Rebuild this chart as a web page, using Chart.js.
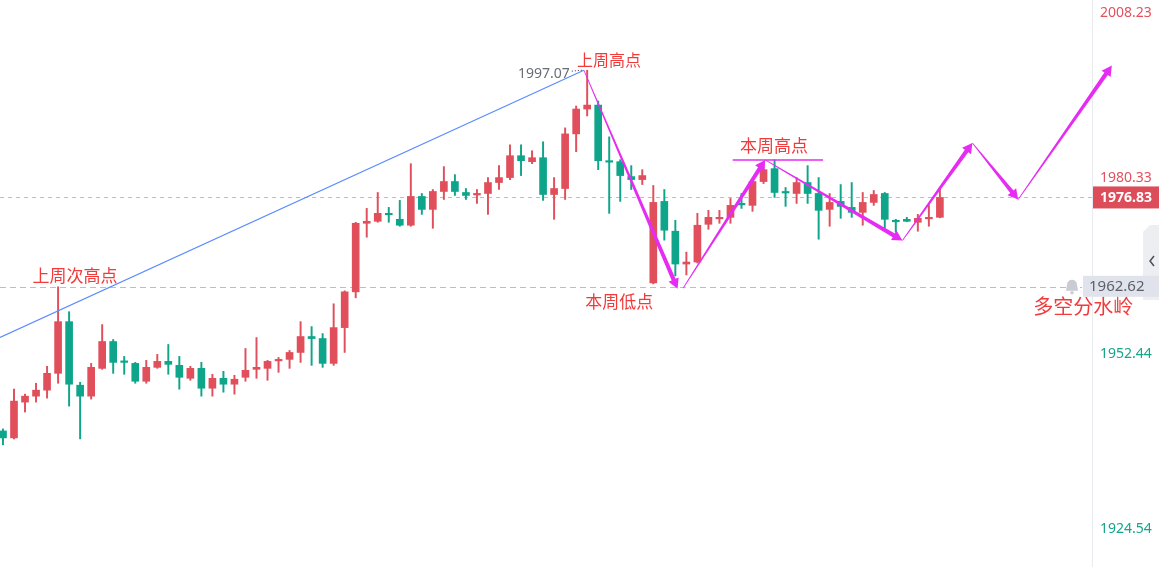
<!DOCTYPE html>
<html>
<head>
<meta charset="utf-8">
<script src="https://cdn.jsdelivr.net/npm/chart.js@4.4.1/dist/chart.umd.min.js"></script>
<style>
html,body{margin:0;padding:0;background:#fff;}
#wrap{width:1159px;height:567px;position:relative;}
</style>
</head>
<body>
<div id="wrap"><canvas id="kline"></canvas></div>
<script>
// candles, oldest first (red = up, green = down)
var opens = [1939.70,1938.59,1944.28,1945.23,1946.18,1948.86,1957.08,1946.97,1945.23,1949.65,
  1953.92,1950.76,1950.44,1947.60,1949.81,1950.76,1950.13,1948.07,1949.65,1946.49,
  1948.07,1947.13,1948.23,1949.50,1949.65,1950.84,1951.08,1952.18,1954.71,1954.39,
  1950.44,1956.13,1961.82,1972.72,1973.04,1974.22,1973.35,1972.41,1976.99,1974.93,
  1977.78,1979.36,1977.62,1977.23,1977.46,1979.20,1979.99,1983.47,1982.52,1983.15,
  1977.30,1978.25,1986.94,1990.89,1991.52,1982.60,1982.52,1980.15,1979.67,1963.24,
  1976.20,1971.46,1966.24,1966.56,1972.56,1973.43,1973.67,1975.80,1975.57,1979.36,
  1981.41,1977.70,1977.46,1979.20,1977.46,1974.93,1976.20,1975.25,1974.46,1976.04,
  1977.46,1973.12,1973.35,1972.88,1973.43,1973.67];
var highs = [1940.02,1946.34,1945.55,1947.28,1949.97,1962.62,1958.66,1947.44,1950.44,1956.61,
  1954.24,1951.55,1950.60,1950.92,1951.87,1953.45,1951.55,1949.97,1950.60,1948.71,
  1949.18,1948.55,1952.81,1954.55,1950.92,1951.39,1952.50,1957.08,1956.29,1955.18,
  1959.92,1961.98,1972.88,1975.09,1977.62,1975.25,1976.36,1982.20,1977.46,1978.09,
  1981.73,1980.46,1978.25,1978.09,1979.99,1981.89,1985.20,1985.20,1984.26,1985.68,
  1979.99,1987.89,1991.37,1997.07,1992.16,1986.47,1982.83,1981.89,1981.25,1978.73,
  1978.09,1973.20,1968.14,1974.30,1974.78,1974.78,1976.67,1977.46,1979.83,1982.04,
  1982.83,1978.41,1979.99,1981.89,1979.99,1977.46,1978.88,1979.20,1977.62,1977.94,
  1977.62,1973.35,1973.67,1974.14,1975.72,1978.41];
var lows = [1937.49,1938.44,1942.70,1944.28,1944.91,1947.28,1943.65,1938.44,1944.76,1949.50,
  1948.86,1948.71,1947.28,1947.28,1949.65,1948.71,1946.34,1947.76,1945.23,1945.23,
  1945.86,1945.55,1947.60,1948.07,1947.76,1949.02,1949.65,1950.60,1950.13,1949.81,
  1950.13,1952.18,1960.87,1970.51,1972.88,1972.88,1972.25,1972.25,1974.14,1971.93,
  1976.51,1977.15,1976.51,1975.88,1974.14,1978.09,1979.67,1980.31,1982.20,1976.36,
  1973.35,1976.51,1984.10,1989.79,1981.25,1974.30,1976.20,1978.09,1978.88,1963.08,
  1970.04,1964.35,1964.51,1966.40,1971.77,1972.72,1972.72,1975.09,1974.62,1979.04,
  1976.83,1975.41,1975.88,1975.88,1970.19,1972.25,1973.51,1973.67,1972.41,1975.57,
  1971.93,1971.30,1972.96,1971.46,1972.25,1973.59];
var closes = [1938.59,1944.44,1945.23,1946.18,1948.86,1957.08,1947.13,1945.23,1949.81,1953.92,
  1950.60,1950.60,1947.60,1949.81,1950.76,1950.29,1948.23,1949.65,1946.49,1948.07,
  1947.13,1947.92,1949.34,1949.81,1950.76,1951.00,1952.18,1954.71,1954.39,1950.44,
  1956.13,1961.82,1972.72,1973.04,1974.30,1974.07,1972.41,1976.99,1974.93,1977.78,
  1979.36,1977.78,1977.15,1977.38,1979.20,1979.99,1983.47,1982.68,1983.15,1977.30,
  1978.25,1986.94,1990.89,1991.52,1982.68,1982.44,1980.31,1979.67,1980.31,1976.04,
  1971.62,1966.24,1966.56,1972.41,1973.67,1973.59,1975.57,1975.65,1979.36,1981.25,
  1977.62,1977.54,1979.20,1977.46,1974.78,1976.04,1975.41,1974.46,1976.04,1977.30,
  1973.35,1972.96,1973.04,1973.51,1973.59,1976.83];

var yTicks = [2008.23, 1980.33, 1952.44, 1924.54];
var yMin = 1918.06;
var xMin = -0.27, xMax = 98.8;
var lastPrice = 1976.83;
var pivotPrice = 1962.62;
var weekHighIdx = 52.7, weekHigh = 1997.07;

// drawings, in [candle index, price]
var trendLine = [[-0.27, 1954.56], [weekHighIdx, weekHigh]];
var swingArrows = [
  [[weekHighIdx, weekHigh], [61.2, 1962.3]],
  [[61.7, 1962.4], [69.15, 1982.8]],
  [[69.15, 1982.8], [81.6, 1970.0]],
  [[81.6, 1970.0], [87.95, 1985.5]],
  [[87.95, 1985.5], [92.1, 1976.5]],
  [[92.1, 1976.5], [100.6, 1997.8]]
];
var thisWeekHighLine = [[66.2, 1982.8], [74.4, 1982.8]];
var notes = [
  {text: '上周次高点', x: 6.53, y: 1964.35, size: 17},
  {text: '上周高点', x: 54.99, y: 1998.63, size: 16},
  {text: '本周低点', x: 55.9, y: 1960.24, size: 17},
  {text: '本周高点', x: 69.96, y: 1985.05, size: 17},
  {text: '多空分水岭', x: 98.0, y: 1959.45, size: 20}
];

var RED = '#e04f5b', GREEN = '#0ea58a', PINK = '#e62cf2';
var CJK = '"Noto Sans CJK SC", "Noto Sans", sans-serif';

var idx = opens.map(function(v, i){ return i; });
var candleColors = idx.map(function(i){ return closes[i] >= opens[i] ? RED : GREEN; });

function taperArrow(ctx, x1, y1, x2, y2) {
    var dx = x2 - x1, dy = y2 - y1, len = Math.sqrt(dx*dx + dy*dy);
    var ux = dx/len, uy = dy/len, nx = -uy, ny = ux;
    var head = 10, hw = 5.5, w0 = 0.4, w1 = 2.1;
    var bx = x2 - ux*head, by = y2 - uy*head;
    ctx.beginPath();
    ctx.moveTo(x1 + nx*w0, y1 + ny*w0);
    ctx.lineTo(bx + nx*w1, by + ny*w1);
    ctx.lineTo(bx + nx*hw, by + ny*hw);
    ctx.lineTo(x2, y2);
    ctx.lineTo(bx - nx*hw, by - ny*hw);
    ctx.lineTo(bx - nx*w1, by - ny*w1);
    ctx.lineTo(x1 - nx*w0, y1 - ny*w0);
    ctx.closePath();
    ctx.fill();
}

var annotate = {
    id: 'annotate',
    beforeDatasetsDraw: function(chart) {
        var ctx = chart.ctx, area = chart.chartArea, ys = chart.scales.y;
        ctx.save();
        ctx.lineWidth = 1;
        ctx.setLineDash([4, 4]);
        ctx.strokeStyle = '#f2a5ac';
        var py = Math.round(ys.getPixelForValue(lastPrice)) + 0.5;
        ctx.beginPath(); ctx.moveTo(area.left, py); ctx.lineTo(area.right, py); ctx.stroke();
        ctx.setLineDash([6, 4]);
        ctx.strokeStyle = '#8fd4c7';
        py = Math.round(ys.getPixelForValue(pivotPrice)) + 0.5;
        ctx.beginPath(); ctx.moveTo(area.left, py); ctx.lineTo(area.right - 10, py); ctx.stroke();
        ctx.restore();
    },
    afterDatasetsDraw: function(chart) {
        var ctx = chart.ctx, xs = chart.scales.x, ys = chart.scales.y;
        function X(v){ return xs.getPixelForValue(v); }
        function Y(v){ return ys.getPixelForValue(v); }
        ctx.save();
        // trend line to last week's high
        ctx.strokeStyle = '#5b8cff';
        ctx.lineWidth = 1.2;
        ctx.beginPath();
        ctx.moveTo(X(trendLine[0][0]), Y(trendLine[0][1]));
        ctx.lineTo(X(trendLine[1][0]), Y(trendLine[1][1]));
        ctx.stroke();

        // high marker
        var hx = X(weekHighIdx), hy = Y(weekHigh);
        ctx.strokeStyle = '#333';
        ctx.lineWidth = 1;
        ctx.setLineDash([1, 2]);
        ctx.beginPath(); ctx.moveTo(hx - 12, hy + 1); ctx.lineTo(hx - 2, hy); ctx.stroke();
        ctx.setLineDash([]);
        ctx.fillStyle = '#6a6d78';
        ctx.font = '14px "Noto Sans", sans-serif';
        ctx.textAlign = 'right';
        ctx.textBaseline = 'middle';
        ctx.fillText(weekHigh.toFixed(2), hx - 14, hy + 4);

        // swing arrows
        ctx.fillStyle = PINK;
        swingArrows.forEach(function(a){
            taperArrow(ctx, X(a[0][0]), Y(a[0][1]), X(a[1][0]), Y(a[1][1]));
        });
        ctx.strokeStyle = PINK;
        ctx.lineWidth = 1.5;
        ctx.beginPath();
        ctx.moveTo(X(thisWeekHighLine[0][0]), Y(thisWeekHighLine[0][1]));
        ctx.lineTo(X(thisWeekHighLine[1][0]), Y(thisWeekHighLine[1][1]));
        ctx.stroke();

        // notes
        ctx.fillStyle = '#f23a3a';
        ctx.textAlign = 'center';
        notes.forEach(function(n){
            ctx.font = n.size + 'px ' + CJK;
            ctx.fillText(n.text, X(n.x), Y(n.y));
        });
        ctx.restore();
    },
    afterDraw: function(chart) {
        var ctx = chart.ctx, area = chart.chartArea, ys = chart.scales.y;
        ctx.save();
        // last price box
        var py = ys.getPixelForValue(lastPrice);
        ctx.fillStyle = '#dc4c59';
        ctx.fillRect(area.right + 1, py - 11, chart.width - area.right - 1, 22);
        ctx.fillStyle = '#fff';
        ctx.font = 'bold 14px "Noto Sans", sans-serif';
        ctx.textAlign = 'left';
        ctx.textBaseline = 'middle';
        ctx.fillText(lastPrice.toFixed(2), area.right + 8, py + 1);

        // collapse tab
        var tabX = chart.width - 16;
        ctx.fillStyle = '#eceef2';
        ctx.beginPath();
        ctx.moveTo(tabX, 232); ctx.lineTo(tabX + 7, 225); ctx.lineTo(chart.width, 225);
        ctx.lineTo(chart.width, 300); ctx.lineTo(tabX, 300); ctx.closePath(); ctx.fill();
        ctx.strokeStyle = '#4a4d57';
        ctx.lineWidth = 1.5;
        ctx.beginPath(); ctx.moveTo(tabX + 11, 256); ctx.lineTo(tabX + 7, 261); ctx.lineTo(tabX + 11, 266); ctx.stroke();

        // pivot box
        var gy = ys.getPixelForValue(pivotPrice);
        var gx = area.right - 9;
        ctx.fillStyle = '#e0e3eb';
        ctx.fillRect(gx, gy - 11, chart.width - gx, 21);
        ctx.fillStyle = '#5d606b';
        ctx.font = '15px "Noto Sans", sans-serif';
        ctx.fillText(pivotPrice.toFixed(2), gx + 6, gy);
        // bell
        var bx = gx - 11;
        ctx.fillStyle = '#caccd4';
        ctx.beginPath();
        ctx.arc(bx, gy - 2, 5, Math.PI, 0);
        ctx.lineTo(bx + 6, gy + 4); ctx.lineTo(bx - 6, gy + 4); ctx.closePath(); ctx.fill();
        ctx.beginPath(); ctx.arc(bx, gy + 6, 1.8, 0, Math.PI*2); ctx.fill();
        ctx.restore();
    }
};

var chart = new Chart(document.getElementById('kline'), {
    type: 'bar',
    data: {
        datasets: [
            {
                label: 'wick',
                data: idx.map(function(i){ return {x: i, y: [lows[i], highs[i]]}; }),
                backgroundColor: candleColors,
                barThickness: 1.3,
                grouped: false,
                borderWidth: 0
            },
            {
                label: 'body',
                data: idx.map(function(i){ return {x: i, y: [opens[i], closes[i]]}; }),
                backgroundColor: candleColors,
                barThickness: 7,
                minBarLength: 1.5,
                grouped: false,
                borderWidth: 0
            }
        ]
    },
    options: {
        responsive: true,
        maintainAspectRatio: false,
        animation: false,
        events: [],
        layout: {padding: 0},
        plugins: {legend: {display: false}, tooltip: {enabled: false}},
        scales: {
            x: {
                type: 'linear',
                min: xMin,
                max: xMax,
                offset: false,
                display: false
            },
            y: {
                position: 'right',
                min: yMin,
                max: yTicks[0],
                afterBuildTicks: function(scale){
                    scale.ticks = yTicks.slice().sort(function(a, b){ return a - b; })
                        .map(function(v){ return {value: v}; });
                },
                afterFit: function(scale){
                    scale.width = 67;
                    scale.paddingTop = 0;
                    scale.paddingBottom = 0;
                },
                grid: {display: false, drawTicks: false},
                border: {display: true, color: '#e9ebf0'},
                ticks: {
                    padding: 8,
                    labelOffset: 3,
                    font: function(c){
                        var top = c.tick && c.tick.value >= yTicks[0];
                        return {family: '"Noto Sans", sans-serif', size: 14, lineHeight: top ? 1.4 : 1.2};
                    },
                    color: function(c){ return c.tick && c.tick.value > lastPrice ? '#e2525e' : '#14a58a'; },
                    callback: function(v){
                        var s = Number(v).toFixed(2);
                        // the top label is pushed down inside the canvas
                        return v >= yTicks[0] ? ['', s] : s;
                    }
                }
            }
        }
    },
    plugins: [annotate]
});
</script>
</body>
</html>
